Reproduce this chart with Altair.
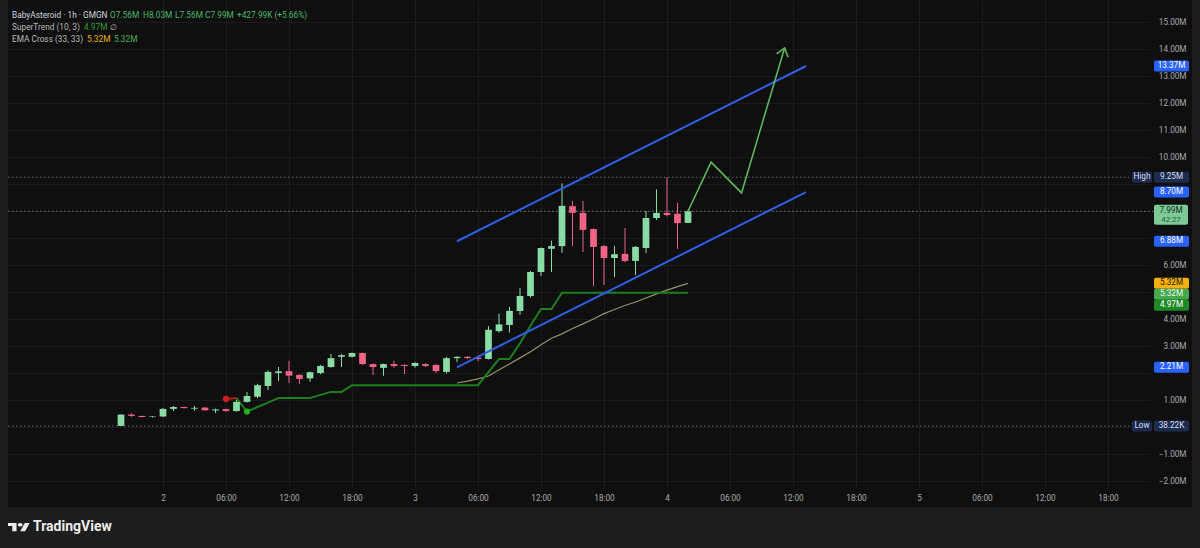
import math
import jinja2
import pandas as pd
import altair as alt

# ---------------- data ----------------
hours  = list(range(-4, 51))
opens  = [0.04, 0.46, 0.41, 0.37, 0.39, 0.67, 0.74, 0.68, 0.72, 0.61, 0.66, 0.59, 0.93, 1.12, 1.52,
          2.00, 2.07, 1.93, 1.80, 2.00, 2.22, 2.60, 2.60, 2.74, 2.33, 2.19, 2.33, 2.30, 2.26, 2.33,
          2.30, 2.04, 2.55, 2.60, 2.57, 2.52, 3.55, 3.78, 4.30, 4.85, 5.74, 6.60, 6.70, 8.18, 7.93,
          7.33, 6.70, 6.26, 6.41, 6.15, 6.63, 7.74, 7.93, 7.90, 7.56]
highs  = [0.47, 0.50, 0.42, 0.40, 0.70, 0.78, 0.75, 0.78, 0.73, 0.68, 0.68, 1.00, 1.30, 1.60, 2.10,
          2.22, 2.45, 1.95, 2.05, 2.30, 2.70, 2.70, 2.76, 2.76, 2.35, 2.35, 2.45, 2.32, 2.40, 2.36,
          2.32, 2.60, 2.62, 2.62, 2.63, 3.74, 4.20, 4.45, 5.15, 5.78, 6.65, 6.90, 9.02, 8.37, 8.37,
          7.35, 6.74, 6.70, 7.37, 6.70, 8.00, 8.80, 9.25, 8.30, 8.03]
lows   = [0.038, 0.38, 0.35, 0.35, 0.37, 0.59, 0.69, 0.60, 0.60, 0.52, 0.57, 0.57, 0.90, 1.07, 1.37,
          1.70, 1.63, 1.60, 1.67, 1.95, 2.20, 2.22, 2.58, 2.30, 1.93, 1.90, 2.20, 1.96, 2.20, 2.22,
          2.00, 1.98, 2.40, 2.52, 2.44, 2.50, 3.50, 3.50, 4.15, 4.80, 5.60, 5.74, 6.45, 6.70, 6.48,
          5.22, 5.26, 5.55, 6.10, 5.63, 6.44, 7.67, 7.80, 6.60, 7.56]
closes = [0.46, 0.41, 0.37, 0.39, 0.67, 0.74, 0.70, 0.71, 0.62, 0.65, 0.59, 0.93, 1.15, 1.55, 2.04,
          2.06, 1.90, 1.78, 2.03, 2.26, 2.55, 2.66, 2.74, 2.33, 2.22, 2.33, 2.26, 2.26, 2.37, 2.26,
          2.07, 2.55, 2.60, 2.55, 2.52, 3.60, 3.80, 4.30, 4.85, 5.74, 6.63, 6.70, 8.19, 7.93, 7.30,
          6.67, 6.26, 6.40, 6.15, 6.67, 7.74, 7.93, 7.85, 7.55, 7.99]

st_hours = list(range(7, 51))
st_vals  = [1.07, 0.57, 0.74, 0.90, 1.07, 1.07, 1.07, 1.07, 1.19, 1.30, 1.30, 1.55, 1.55, 1.55, 1.55,
            1.55, 1.55, 1.55, 1.55, 1.55, 1.55, 1.55, 1.55, 1.55, 2.03, 2.52, 2.52, 3.10, 3.75, 4.37,
            4.37, 4.97, 4.97, 4.97, 4.97, 4.97, 4.97, 4.97, 4.97, 4.97, 4.97, 4.97, 4.97, 4.97]
st_red_hours = [6, 7]
st_red_vals  = [1.04, 1.07]
signal_hours = [6, 8]
signal_vals  = [1.04, 0.57]
signal_colors = ["#d01f1f", "#22b022"]

ema_hours = list(range(28, 51))
ema_vals  = [1.63, 1.70, 1.78, 1.89, 2.12, 2.33, 2.56, 2.79, 3.05, 3.29, 3.45, 3.65, 3.82, 4.00,
             4.20, 4.35, 4.50, 4.63, 4.78, 4.93, 5.07, 5.20, 5.32]

channel_hours = [28, 61.24]
upper_vals    = [6.88, 13.37]
lower_vals    = [2.21, 8.70]

proj_hours = [50, 52.2, 55.1, 59.2]
proj_vals  = [7.99, 9.81, 8.67, 14.04]

x_ticks = list(range(0, 91, 6))
x_tick_labels = ["2", "06:00", "12:00", "18:00", "3", "06:00", "12:00", "18:00",
                 "4", "06:00", "12:00", "18:00", "5", "06:00", "12:00", "18:00"]
y_ticks = list(range(-2, 16))
y_ticks_hidden = [0, 2, 5, 7, 8, 9]   # covered by price tags in the original

tag_labels = ["13.37M", "8.70M", "6.88M", "5.32M", "5.32M", "4.97M", "2.21M"]
tag_values = [13.37, 8.70, 6.88, 5.32, 5.32, 4.97, 2.21]
tag_fills  = ["#2962ff", "#2962ff", "#2962ff", "#f2b10f", "#46a94f", "#1d8a25", "#2962ff"]
tag_texts  = ["#ffffff", "#ffffff", "#ffffff", "#2a2000", "#e8f5e9", "#ffffff", "#ffffff"]

high_value, low_value = 9.25, 0.03822
last_value = 7.99

# ---------------- layout ----------------
W, H = 1142, 488
XD = [-155 / 10.5, 987 / 10.5]
YD = [-61 / 27, 427 / 27]
PX_PER_M = H / (YD[1] - YD[0])
PX_PER_H = W / (XD[1] - XD[0])

FONT = "Roboto"
BG = "#0f0f0f"
OUTER = "#1d1d1d"
GRID = "#1c1c1c"
LBL = "#a9a9a9"
UP, DOWN = "#89dca5", "#f06384"
NAVY = "#1d2b4f"
AX_FS = 8.2
HD_FS = 8.3

xsc = alt.Scale(domain=XD, nice=False, zero=False)
ysc = alt.Scale(domain=YD, nice=False, zero=False)


def X(field):
    return alt.X(field, scale=xsc, title=None)


def Y(field):
    return alt.Y(field, scale=ysc, title=None)


candles = pd.DataFrame({"h": hours, "o": opens, "hi": highs, "lo": lows, "c": closes})
candles["col"] = [UP if c >= o else DOWN for o, c in zip(opens, closes)]
candles["x1"] = candles["h"] - 0.32
candles["x2"] = candles["h"] + 0.32

x_label_expr = "[" + ",".join("'%s'" % s for s in x_tick_labels) + "][datum.value / 6]"
y_label_expr = ("indexof([" + ",".join(str(v) for v in y_ticks_hidden) + "], datum.value) >= 0 ? '' : "
                "format(datum.value, '.2f') + 'M'")

# wicks carry the axes and grid
wicks = alt.Chart(candles).mark_rule(strokeWidth=1).encode(
    x=alt.X("h:Q", scale=xsc, title=None,
            axis=alt.Axis(values=x_ticks, labelExpr=x_label_expr, labelOverlap=False)),
    y=alt.Y("lo:Q", scale=ysc, title=None,
            axis=alt.Axis(orient="right", values=y_ticks, labelExpr=y_label_expr,
                          labelOverlap=False, tickCount=18)),
    y2="hi:Q",
    color=alt.Color("col:N", scale=None),
)
bodies = alt.Chart(candles).mark_rect().encode(
    x=X("x1:Q"), x2="x2:Q", y=Y("o:Q"), y2="c:Q", color=alt.Color("col:N", scale=None))

# outer frame strips (outside the panel)
one = pd.DataFrame({"k": [0]})
frame = alt.layer(
    alt.Chart(one).mark_rect(color=OUTER).encode(x=alt.value(-8), x2=alt.value(0), y=alt.value(0), y2=alt.value(548)),
    alt.Chart(one).mark_rect(color=OUTER).encode(x=alt.value(1184), x2=alt.value(1192), y=alt.value(0), y2=alt.value(548)),
    alt.Chart(one).mark_rect(color=OUTER).encode(x=alt.value(-8), x2=alt.value(1192), y=alt.value(507), y2=alt.value(548)),
)

# dotted reference lines
hl = pd.DataFrame({"v": [high_value, low_value]})
hl_lines = alt.Chart(hl).mark_rule(color="#666666", strokeDash=[1.5, 2.5], strokeWidth=1).encode(
    y=Y("v:Q"), x=alt.value(0), x2=alt.value(1123))
last_line = alt.Chart(pd.DataFrame({"v": [last_value]})).mark_rule(
    color="#6f7a72", strokeDash=[1.5, 2.5], strokeWidth=1).encode(
    y=Y("v:Q"), x=alt.value(0), x2=alt.value(1146))

# indicators
st_line = alt.Chart(pd.DataFrame({"h": st_hours, "v": st_vals})).mark_line(
    color="#1f7f1f", strokeWidth=2).encode(x=X("h:Q"), y=Y("v:Q"))
st_red = alt.Chart(pd.DataFrame({"h": st_red_hours, "v": st_red_vals})).mark_line(
    color="#b71c1c", strokeWidth=2).encode(x=X("h:Q"), y=Y("v:Q"))
sig = alt.Chart(pd.DataFrame({"h": signal_hours, "v": signal_vals, "col": signal_colors})).mark_point(
    filled=True, size=38, opacity=1).encode(x=X("h:Q"), y=Y("v:Q"), color=alt.Color("col:N", scale=None))
ema_line = alt.Chart(pd.DataFrame({"h": ema_hours, "v": ema_vals})).mark_line(
    color="#959463", strokeWidth=1.2).encode(x=X("h:Q"), y=Y("v:Q"))

# drawings
chan_df = pd.DataFrame({"h": channel_hours * 2, "v": upper_vals + lower_vals,
                        "line": ["upper", "upper", "lower", "lower"]})
chan = alt.Chart(chan_df).mark_line(color="#2f5fe6", strokeWidth=2).encode(
    x=X("h:Q"), y=Y("v:Q"), detail="line:N")
proj = alt.Chart(pd.DataFrame({"h": proj_hours, "v": proj_vals, "i": list(range(len(proj_hours)))})).mark_line(
    color="#5cb85c", strokeWidth=1.6).encode(x=X("h:Q"), y=Y("v:Q"), order="i:Q")
dx = (proj_hours[-1] - proj_hours[-2]) * PX_PER_H
dy = (proj_vals[-1] - proj_vals[-2]) * PX_PER_M
arrow_angle = math.degrees(math.atan2(dx, dy))
arrow = alt.Chart(pd.DataFrame({"h": [proj_hours[-1]], "v": [proj_vals[-1]]})).mark_point(
    shape="M-0.6,0.8L0,0L0.6,0.8", filled=False, size=400, angle=arrow_angle,
    stroke="#5cb85c", strokeWidth=1.6, opacity=1).encode(x=X("h:Q"), y=Y("v:Q"))

# price-scale tags (stacked so they do not overlap)
BOX = 11 / PX_PER_M
order = sorted(range(len(tag_values)), key=lambda i: -tag_values[i])
disp = [0.0] * len(tag_values)
prev = None
for i in order:
    d = tag_values[i] if prev is None else min(tag_values[i], prev - BOX)
    disp[i] = d
    prev = d
tags = pd.DataFrame({"label": tag_labels, "d": disp, "fill": tag_fills, "tc": tag_texts})
tags["top"] = tags["d"] + BOX / 2
tags["bot"] = tags["d"] - BOX / 2
tag_rect = alt.Chart(tags).mark_rect(cornerRadius=2).encode(
    x=alt.value(1146), x2=alt.value(1181), y=Y("top:Q"), y2="bot:Q", color=alt.Color("fill:N", scale=None))
tag_text = alt.Chart(tags).mark_text(font=FONT, fontSize=AX_FS, align="center", baseline="middle").encode(
    x=alt.value(1163.5), y=Y("d:Q"), text="label:N", color=alt.Color("tc:N", scale=None))

hl_tags = pd.DataFrame({"name": ["High", "Low"], "val": ["9.25M", "38.22K"], "v": [high_value, low_value]})
hl_tags["top"] = hl_tags["v"] + BOX / 2
hl_tags["bot"] = hl_tags["v"] - BOX / 2
hl_box1 = alt.Chart(hl_tags).mark_rect(color=NAVY, cornerRadius=2).encode(
    x=alt.value(1124), x2=alt.value(1144), y=Y("top:Q"), y2="bot:Q")
hl_box2 = alt.Chart(hl_tags).mark_rect(color=NAVY, cornerRadius=2).encode(
    x=alt.value(1146), x2=alt.value(1181), y=Y("top:Q"), y2="bot:Q")
hl_txt1 = alt.Chart(hl_tags).mark_text(font=FONT, fontSize=AX_FS, color="#d6dcec", baseline="middle").encode(
    x=alt.value(1134), y=Y("v:Q"), text="name:N")
hl_txt2 = alt.Chart(hl_tags).mark_text(font=FONT, fontSize=AX_FS, color="#d6dcec", baseline="middle").encode(
    x=alt.value(1163.5), y=Y("v:Q"), text="val:N")

last_df = pd.DataFrame({"v": [last_value], "top": [last_value + 6.5 / PX_PER_M],
                        "bot": [last_value - 13.5 / PX_PER_M], "v2": [last_value - 9 / PX_PER_M],
                        "t1": ["7.99M"], "t2": ["42:27"]})
last_box = alt.Chart(last_df).mark_rect(color="#7cca96", cornerRadius=2).encode(
    x=alt.value(1146), x2=alt.value(1180), y=Y("top:Q"), y2="bot:Q")
last_t1 = alt.Chart(last_df).mark_text(font=FONT, fontSize=AX_FS, color="#14301e", baseline="middle").encode(
    x=alt.value(1163), y=Y("v:Q"), text="t1:N")
last_t2 = alt.Chart(last_df).mark_text(font=FONT, fontSize=7.8, color="#2c5a3a", baseline="middle").encode(
    x=alt.value(1163), y=Y("v2:Q"), text="t2:N")


# header legend
def txt(s, x, y, color, size=HD_FS, weight="normal"):
    return alt.Chart(pd.DataFrame({"t": [s]})).mark_text(
        font=FONT, fontSize=size, fontWeight=weight, align="left", baseline="middle", color=color
    ).encode(text="t:N", x=alt.value(x), y=alt.value(y))


GREEN_TXT = "#4cb867"
header = alt.layer(
    txt("BabyAsteroid · 1h · GMGN", 4, 16, "#d1d4dc"),
    txt("O7.56M", 102, 16, GREEN_TXT),
    txt("H8.03M", 135, 16, GREEN_TXT),
    txt("L7.56M", 167, 16, GREEN_TXT),
    txt("C7.99M", 197, 16, GREEN_TXT),
    txt("+427.99K (+5.66%)", 229, 16, GREEN_TXT),
    txt("SuperTrend (10, 3)", 4, 28, "#b8b8b8"),
    txt("4.97M", 76, 28, "#2e9b35"),
    txt("∅", 102, 28, "#b8b8b8"),
    txt("EMA Cross (33, 33)", 4, 40, "#b8b8b8"),
    txt("5.32M", 79, 40, "#e8b20c"),
    txt("5.32M", 106, 40, "#4caf50"),
)

logo_path = ("M-0.222,0.375L-0.611,0.375L-0.611,-0.083L-1,-0.083L-1,-0.375L-0.222,-0.375Z"
             "M0.556,0.375L0.111,0.375L0.528,-0.375L0.972,-0.375Z"
             "M0.333,-0.208A0.222,0.167 0 1 1 -0.111,-0.208A0.222,0.167 0 1 1 0.333,-0.208Z")
logo = alt.Chart(one).mark_point(shape=logo_path, filled=True, size=484, color="#ececec", opacity=1).encode(
    x=alt.value(11), y=alt.value(527))
brand = txt("TradingView", 25, 527, "#ececec", size=14, weight="bold")

chart = alt.layer(
    frame, hl_lines, last_line, ema_line, st_red, st_line, wicks, bodies, sig, chan, proj, arrow,
    tag_rect, tag_text, hl_box1, hl_box2, hl_txt1, hl_txt2, last_box, last_t1, last_t2,
    header, logo, brand,
).properties(
    width=W, height=H,
    autosize=alt.AutoSizeParams(type="none"),
    padding={"left": 8, "top": 0, "right": 50, "bottom": 60},
    background=BG,
).configure_view(stroke=None).configure_axis(
    grid=True, gridColor=GRID, gridWidth=1, domain=False, ticks=False, tickSize=0,
    labelColor=LBL, labelFont=FONT, labelFontSize=AX_FS, labelOverlap=False, labelFlush=False,
).configure_axisX(
    labelPadding=10, labelBaseline="middle",
).configure_axisY(
    labelPadding=36, labelAlign="right",
)

TEMPLATE = jinja2.Template("""<!DOCTYPE html>
<html>
<head>
<meta charset="utf-8">
<style>html, body { margin: 0; padding: 0; background: #1d1d1d; overflow: hidden; }</style>
<script type="text/javascript" src="{{ base_url }}/vega@{{ vega_version }}"></script>
<script type="text/javascript" src="{{ base_url }}/vega-lite@{{ vegalite_version }}"></script>
<script type="text/javascript" src="{{ base_url }}/vega-embed@{{ vegaembed_version }}"></script>
</head>
<body>
<div id="{{ output_div }}"></div>
<script type="text/javascript">
var spec = {{ spec }};
var embedOpt = {{ embed_options }};
vegaEmbed("#{{ output_div }}", spec, embedOpt).catch(function (err) { console.error(err); });
</script>
</body>
</html>
""")

chart.save("out.html", embed_options={"renderer": "svg", "actions": False}, template=TEMPLATE)
